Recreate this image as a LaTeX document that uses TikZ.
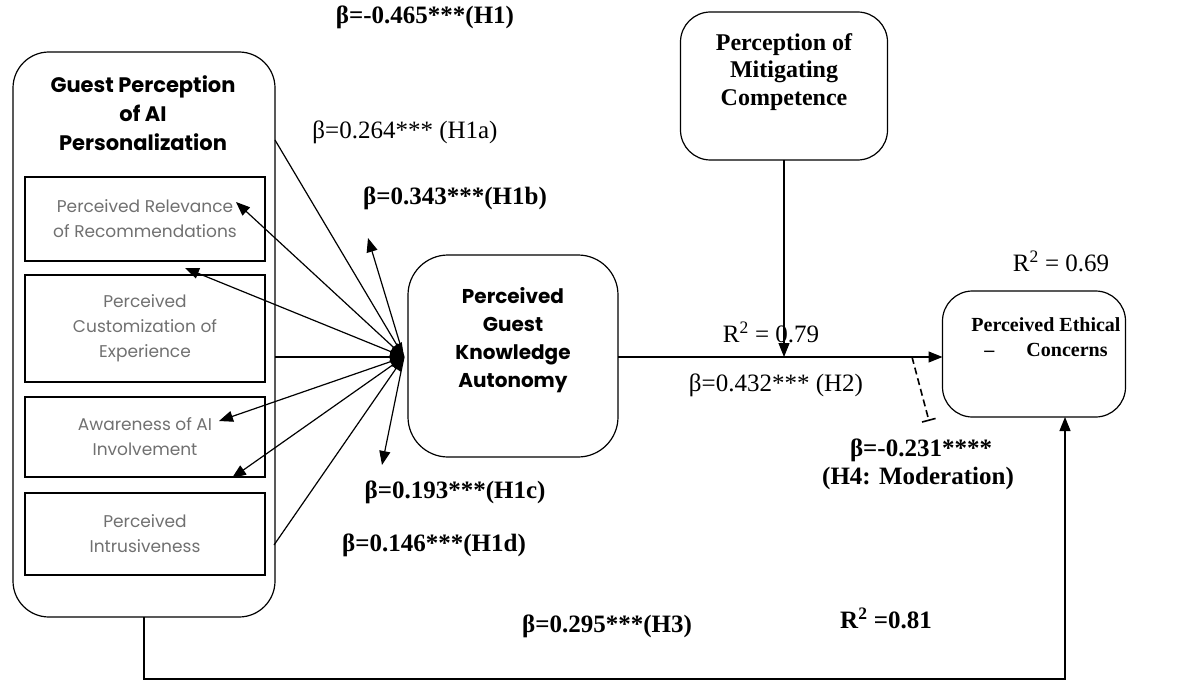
\documentclass[tikz,border=0pt]{standalone}
\usepackage{fontspec}
\setmainfont{Liberation Serif}
\newfontfamily\gothicfont{Poppins}
\usetikzlibrary{arrows.meta}
\definecolor{subtext}{HTML}{707070}

\begin{document}
\begin{tikzpicture}[x=1pt, y=1pt, yscale=-1, inner sep=0pt, outer sep=0pt,
  box/.style={draw=black, line width=1.2pt},
  roundbox/.style={box, rounded corners=30pt},
  subbox/.style={box, minimum width=240pt, align=center, text=subtext,
    font=\gothicfont\fontsize{17}{25}\selectfont},
  sanshead/.style={align=center, font=\gothicfont\bfseries\fontsize{20}{28}\selectfont},
  serifhead/.style={align=center, font=\bfseries\fontsize{22}{27}\selectfont},
  beta/.style={font=\bfseries\fontsize{25}{28}\selectfont},
  betareg/.style={font=\fontsize{25}{28}\selectfont},
  link/.style={line width=1.2pt, -{Triangle[length=14pt,width=11pt]}},
  twoway/.style={line width=1.2pt, {Triangle[length=14pt,width=11pt]}-{Triangle[length=14pt,width=11pt]}}]
  \useasboundingbox (0,0) rectangle (1182,682);
  \node[roundbox, rounded corners=36pt, minimum width=262pt, minimum height=565pt] (guest) at (144,334.5) {};
  \node[sanshead, font=\gothicfont\bfseries\fontsize{21}{29}\selectfont] (guesttitle) at (143,113) {Guest Perception\\of AI\\Personalization};
  \node[subbox, minimum height=84pt] (relev) at (145,219) {Perceived Relevance\\of Recommendations};
  \node[subbox, minimum height=107pt] (custom) at (145,328.5) {Perceived\\Customization of\\Experience};
  \node[subbox, minimum height=80pt] (aware) at (145,437) {Awareness of AI\\Involvement};
  \node[subbox, minimum height=82pt] (intrus) at (145,534) {Perceived\\Intrusiveness};

  \node[roundbox, rounded corners=40pt, minimum width=210pt, minimum height=202pt] (pgka) at (513,356) {};
  \node[sanshead] (pgkatext) at ([yshift=-16pt]pgka.center) {Perceived\\Guest\\Knowledge\\Autonomy};
  \node[roundbox, minimum width=207pt, minimum height=148pt] (mitig) at (784,86) {};
  \node[serifhead, font=\bfseries\fontsize{24}{27.5}\selectfont] (mitigtext) at ([yshift=-14pt]mitig.center) {Perception of\\Mitigating\\Competence};
  \node[roundbox, minimum width=183pt, minimum height=126pt] (ethic) at (1034,354) {};
  \node[serifhead, font=\bfseries\fontsize{20}{25}\selectfont] (ethictext) at ([xshift=12pt,yshift=-17pt]ethic.center) {Perceived Ethical\\\textendash\hspace{1.6em}Concerns};

  \coordinate (hub) at (404,357);
  \coordinate (topstart) at (275,140);
  \coordinate (relend) at (236,202);
  \coordinate (custend) at (185,268);
  \coordinate (awareend) at (219,421);
  \coordinate (awarelow) at (232,478);
  \coordinate (lowstart) at (274,545);
  \coordinate (upend) at (368,238);
  \coordinate (downend) at (382,465);
  \coordinate (modtop) at (912,357);
  \coordinate (modbot) at (929,421);
  \coordinate (basecorner) at (1065,679);

  \draw[link] (topstart) -- (hub);
  \draw[twoway] (relend) -- (hub);
  \draw[twoway] (custend) -- (hub);
  \draw[link] (guest.east |- hub) -- (hub);
  \draw[twoway] (awareend) -- (hub);
  \draw[twoway] (awarelow) -- (hub);
  \draw[link] (lowstart) -- (hub);
  \draw[link] (hub) -- (upend);
  \draw[link] (hub) -- (downend);
  \draw[link] (pgka.east |- hub) -- (ethic.west |- hub);
  \draw[link] (mitig.south) -- (mitig.south |- hub);
  \draw[line width=1.6pt, dash pattern=on 7pt off 4pt, -{Bar[width=14pt]}] (modtop) -- (modbot);
  \draw[link] (guest.south) |- (basecorner) -- (basecorner |- ethic.south);

  \node[beta] (h1) at (425,17) {β=-0.465***(H1)};
  \node[betareg] (h1a) at (405,132) {β=0.264*** (H1a)};
  \node[beta] (h1b) at (455,198) {β=0.343***(H1b)};
  \node[beta] (h1c) at (455,492) {β=0.193***(H1c)};
  \node[beta] (h1d) at (434,545) {β=0.146***(H1d)};
  \node[betareg] (r79) at (771,332) {R\textsuperscript{2} = 0.79};
  \node[betareg] (h2) at (776,385) {β=0.432*** (H2)};
  \node[betareg] (r69) at (1061,261) {R\textsuperscript{2} = 0.69};
  \node[beta] (h4) at (921,450) {β=-0.231****};
  \node[beta] (h4note) at (918,478) {(H4: Moderation)};
  \node[beta] (h3) at (607,626) {β=0.295***(H3)};
  \node[beta] (r81) at (886,618) {R\textsuperscript{2} =0.81};
\end{tikzpicture}
\end{document}
